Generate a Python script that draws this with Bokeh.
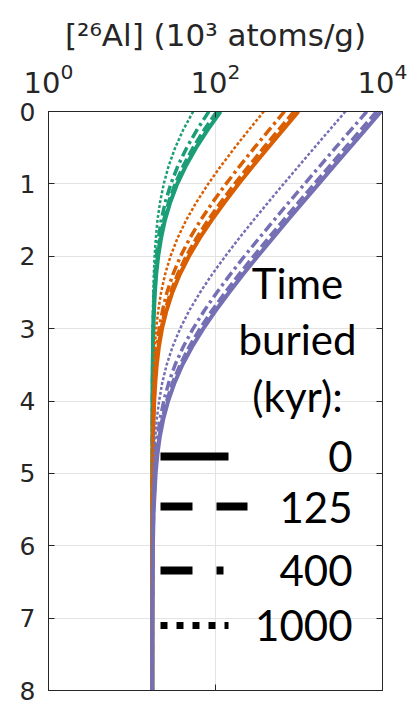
from bokeh.plotting import figure
from bokeh.models import Range1d, FixedTicker, LinearAxis, LogAxis, Label, Arrow
from bokeh.embed import file_html
from bokeh.resources import INLINE

# ---------------- data ----------------
depth_m = [0, 0.25, 0.5, 0.75, 1.0, 1.25, 1.5, 1.75, 2.0, 2.25, 2.5, 2.75, 3.0,
           3.25, 3.5, 3.75, 4.0, 4.25, 4.5, 4.75, 5.0, 5.5, 6.0, 7.0, 8.0]

burial_kyr = ["0", "125", "400", "1000"]

green_0 = [115.0, 80.8, 58.6, 44.2, 34.8, 28.8, 24.8, 22.3, 20.6, 19.5, 18.8, 18.35, 18.05,
           17.86, 17.73, 17.65, 17.6, 17.56, 17.54, 17.53, 17.52, 17.51, 17.5, 17.5, 17.5]
green_125 = [103.7, 73.5, 53.8, 41.1, 32.8, 27.5, 24.0, 21.7, 20.2, 19.3, 18.65, 18.25, 17.98,
             17.82, 17.7, 17.63, 17.59, 17.56, 17.54, 17.52, 17.52, 17.51, 17.5, 17.5, 17.5]
green_400 = [83.3, 60.2, 45.2, 35.5, 29.2, 25.1, 22.4, 20.7, 19.6, 18.85, 18.38, 18.07, 17.87,
             17.74, 17.66, 17.6, 17.57, 17.54, 17.53, 17.52, 17.51, 17.5, 17.5, 17.5, 17.5]
green_1000 = [54.0, 41.2, 32.9, 27.5, 24.0, 21.7, 20.2, 19.3, 18.65, 18.25, 17.99, 17.82, 17.71,
              17.63, 17.59, 17.56, 17.54, 17.52, 17.52, 17.51, 17.51, 17.5, 17.5, 17.5, 17.5]

orange_0 = [984.5, 645.5, 425.3, 282.3, 189.4, 129.2, 90.0, 64.6, 48.1, 37.4, 30.4, 25.9, 22.9,
            21.0, 19.8, 19.0, 18.47, 18.13, 17.91, 17.77, 17.67, 17.57, 17.53, 17.51, 17.5]
orange_125 = [872.3, 572.6, 378.0, 251.5, 169.5, 116.2, 81.6, 59.1, 44.5, 35.1, 28.9, 24.9, 22.3,
              20.6, 19.5, 18.8, 18.36, 18.06, 17.86, 17.73, 17.65, 17.56, 17.53, 17.5, 17.5]
orange_400 = [670.2, 441.4, 292.7, 196.2, 133.6, 92.9, 66.5, 49.3, 38.1, 30.9, 26.2, 23.2, 21.2,
              19.9, 19.05, 18.51, 18.15, 17.92, 17.78, 17.68, 17.62, 17.55, 17.52, 17.5, 17.5]
orange_1000 = [379.2, 252.4, 170.0, 116.5, 81.8, 59.3, 44.6, 35.1, 28.9, 24.9, 22.3, 20.6, 19.5,
               18.8, 18.36, 18.06, 17.86, 17.74, 17.65, 17.6, 17.56, 17.53, 17.51, 17.5, 17.5]

purple_0 = [9597, 6238, 4057, 2640, 1720, 1123, 736, 484, 320.4, 214.3, 145.3, 100.5, 71.4,
            52.5, 40.2, 32.3, 27.1, 23.7, 21.5, 20.1, 19.2, 18.2, 17.8, 17.55, 17.51]
purple_125 = [8486, 5517, 3588, 2336, 1523, 995.7, 652.7, 429.9, 285.3, 191.5, 130.5, 90.8, 65.1,
              48.4, 37.6, 30.5, 26.0, 23.0, 21.1, 19.8, 19.0, 18.14, 17.77, 17.55, 17.51]
purple_400 = [6484, 4216, 2744, 1788, 1167, 764.4, 502.5, 332.4, 222.0, 150.3, 103.8, 73.5, 53.9,
              41.1, 32.8, 27.5, 24.0, 21.7, 20.2, 19.3, 18.65, 18.0, 17.7, 17.54, 17.51]
purple_1000 = [3600, 2344, 1528, 998.5, 654.6, 431.3, 286.2, 192.0, 130.8, 91.1, 65.3, 48.5, 37.7,
               30.6, 26.0, 23.0, 21.1, 19.8, 19.0, 18.5, 18.14, 17.77, 17.61, 17.52, 17.5]

x_ticks = [1, 100, 10000]
y_ticks = [0, 1, 2, 3, 4, 5, 6, 7, 8]
x_title = "[²⁶Al] (10³ atoms/g)"

# ---------------- styling ----------------
GREEN, ORANGE, PURPLE = "#1b9e77", "#d95f02", "#7570b3"
AXC = "#262626"
GRID = "#e3e3e3"
W, H = 409, 701
FL, FT, FR, FB = 48, 111, 382, 690

def xd(px):
    return 10 ** ((px - FL) / (FR - FL) * 4)

def yd(py):
    return (py - FT) / (FB - FT) * 8

p = figure(width=W, height=H, x_axis_type="log", x_range=Range1d(1, 1e4),
           y_range=Range1d(8, 0), x_axis_location="above",
           output_backend="svg", toolbar_location=None,
           min_border_left=FL, min_border_right=W - FR,
           min_border_top=FT, min_border_bottom=H - FB)
p.background_fill_color = "white"
p.border_fill_color = "white"
p.outline_line_color = AXC
p.outline_line_width = 1

def style_axis(ax, ticks, labels=True):
    ax.ticker = FixedTicker(ticks=ticks, minor_ticks=[])
    ax.axis_line_color = AXC
    ax.axis_line_width = 1
    ax.major_tick_line_color = AXC
    ax.major_tick_in = 6
    ax.major_tick_out = 0
    ax.minor_tick_line_color = None
    ax.major_label_text_color = AXC
    ax.major_label_text_font = "DejaVu Sans"
    if not labels:
        ax.major_label_overrides = {t: "" for t in ticks}
        ax.major_label_text_font_size = "2px"
        ax.major_label_standoff = 0

top = p.xaxis[0]
style_axis(top, x_ticks)
top.major_label_text_font_size = "29px"
top.major_label_standoff = 19
top.axis_label = x_title
top.axis_label_text_font = "DejaVu Sans"
top.axis_label_text_font_size = "31px"
top.axis_label_text_font_style = "normal"
top.axis_label_text_color = AXC
top.axis_label_standoff = 7

left = p.yaxis[0]
style_axis(left, y_ticks)
left.major_label_text_font_size = "25px"
left.major_label_standoff = 13

bottom = LogAxis()
style_axis(bottom, x_ticks, labels=False)
p.add_layout(bottom, "below")
right = LinearAxis()
style_axis(right, y_ticks, labels=False)
p.add_layout(right, "right")

p.xgrid.ticker = FixedTicker(ticks=x_ticks)
p.ygrid.ticker = FixedTicker(ticks=y_ticks)
p.xgrid.grid_line_color = GRID
p.ygrid.grid_line_color = GRID

dashes = ["solid", "10 4", "10 4 3 4", "3 2"]
widths = [4, 3.5, 3.5, 2.5]
series = [(GREEN, [green_0, green_125, green_400, green_1000]),
          (ORANGE, [orange_0, orange_125, orange_400, orange_1000]),
          (PURPLE, [purple_0, purple_125, purple_400, purple_1000])]
for color, curves in series:
    for conc, dash, lw in zip(curves, dashes, widths):
        p.line(conc, depth_m, line_color=color, line_width=lw, line_dash=dash)

# ---------------- legend ----------------
LF = "Lato"
LFS = "42px"
SHIFT = 15
for txt, py in [("Time", 297), ("buried", 353), ("(kyr):", 410)]:
    p.add_layout(Label(x=xd(297), y=yd(py - SHIFT), text=txt, text_font=LF, text_font_size=LFS,
                       text_color="black", text_align="center", text_baseline="alphabetic"))

legend_rows = [(456, 471, "solid", 228, 8), (506, 522, "32 24", 247, 8),
               (570, 585, "32 24 7 24", 223, 8), (625, 640, "7 9", 228, 7)]
for (ly, ty, dash, xend, lw), lab in zip(legend_rows, burial_kyr):
    p.add_layout(Arrow(end=None, x_start=xd(160), y_start=yd(ly), x_end=xd(xend), y_end=yd(ly),
                       line_color="black", line_width=lw, line_dash=dash))
    p.add_layout(Label(x=xd(352), y=yd(ty - SHIFT), text=lab, text_font=LF, text_font_size=LFS,
                       text_color="black", text_align="right", text_baseline="alphabetic"))

open("out.html", "w").write(file_html(p, INLINE))
